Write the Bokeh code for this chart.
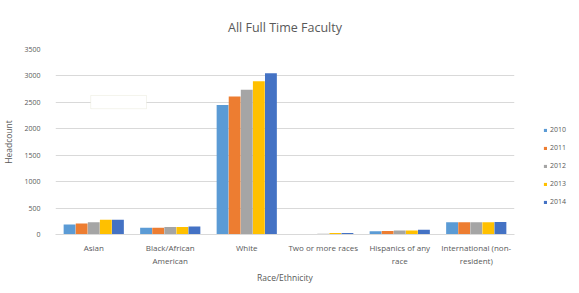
from bokeh.plotting import figure
from bokeh.models import (ColumnDataSource, Range1d, Legend, LegendItem, FactorRange,
                          BoxAnnotation)
from bokeh.layouts import row
from bokeh.transform import dodge
from bokeh.embed import file_html
from bokeh.resources import INLINE

categories = ["Asian", "Black/African\nAmerican", "White", "Two or more races",
              "Hispanics of any\nrace", "International (non-\nresident)"]
years = ["2010", "2011", "2012", "2013", "2014"]
v2010 = [190, 130, 2450, 10, 60, 230]
v2011 = [210, 130, 2610, 10, 65, 230]
v2012 = [230, 140, 2740, 15, 75, 230]
v2013 = [280, 140, 2900, 30, 75, 230]
v2014 = [280, 150, 3050, 30, 90, 235]
colors = ["#5B9BD5", "#ED7D31", "#A5A5A5", "#FFC000", "#4472C4"]
y_ticks = [0, 500, 1000, 1500, 2000, 2500, 3000, 3500]

src = ColumnDataSource(dict(cat=categories, v2010=v2010, v2011=v2011, v2012=v2012,
                            v2013=v2013, v2014=v2014))

FONT = "Open Sans"
GREY = "#595959"
H = 285

p = figure(width=522, height=H,
           x_range=FactorRange(*categories, range_padding=0),
           y_range=Range1d(0, 3500), output_backend="svg", toolbar_location=None,
           title="All Full Time Faculty")
p.min_border_left = 42
p.min_border_right = 8
p.min_border_top = 49
p.min_border_bottom = 50
p.outline_line_color = None

p.title.align = "center"
p.title.text_font = FONT
p.title.text_font_size = "12.5px"
p.title.text_font_style = "normal"
p.title.text_color = GREY
p.title.standoff = 28

offsets = [-0.316, -0.158, 0.0, 0.158, 0.316]
for y, col, off in zip(years, colors, offsets):
    p.vbar(x=dodge("cat", off, range=p.x_range), top="v" + y, width=0.155,
           source=src, color=col, line_color=None)

# empty text box present in the original screenshot
p.add_layout(BoxAnnotation(left=0.46, right=1.19, bottom=2380, top=2630,
                           fill_color="white", fill_alpha=1,
                           line_color="#DADAC4", line_width=1))

p.xgrid.grid_line_color = None
p.ygrid.grid_line_color = "#D9D9D9"
p.ygrid.grid_line_width = 1
p.yaxis.ticker = y_ticks
p.yaxis.axis_line_color = None
p.yaxis.major_tick_line_color = None
p.yaxis.minor_tick_line_color = None
p.yaxis.major_label_text_font = FONT
p.yaxis.major_label_text_font_size = "7px"
p.yaxis.major_label_text_color = GREY
p.yaxis.major_label_standoff = 9
p.yaxis.axis_label = "Headcount"
p.yaxis.axis_label_text_font = FONT
p.yaxis.axis_label_text_font_size = "8.5px"
p.yaxis.axis_label_text_font_style = "normal"
p.yaxis.axis_label_text_color = GREY
p.yaxis.axis_label_standoff = 7

p.xaxis.axis_line_color = "#D9D9D9"
p.xaxis.major_tick_line_color = None
p.xaxis.minor_tick_line_color = None
p.xaxis.major_label_text_font = FONT
p.xaxis.major_label_text_font_size = "8px"
p.xaxis.major_label_text_color = GREY
p.xaxis.major_label_standoff = 1
p.xaxis.axis_label = "Race/Ethnicity"
p.xaxis.axis_label_text_font = FONT
p.xaxis.axis_label_text_font_size = "8.5px"
p.xaxis.axis_label_text_font_style = "normal"
p.xaxis.axis_label_text_color = GREY
p.xaxis.axis_label_standoff = 3

# legend panel (zero-height placeholder bars only carry the legend swatches)
p2 = figure(width=49, height=H, output_backend="svg", toolbar_location=None,
            x_range=Range1d(0, 1), y_range=Range1d(0, 1))
p2.min_border = 0
p2.axis.visible = False
p2.grid.visible = False
p2.outline_line_color = None
items = []
for y, col in zip(years, colors):
    r = p2.vbar(x=[0], top=[0], bottom=[0], width=0.001, color=col, line_color=None)
    items.append(LegendItem(label=y, renderers=[r]))
legend = Legend(items=items, location=(21, 27), orientation="vertical",
                label_text_font=FONT, label_text_font_size="7px", label_text_color=GREY,
                glyph_width=4, glyph_height=4, spacing=7, label_standoff=3,
                border_line_color=None, background_fill_alpha=0, padding=0, margin=0,
                label_height=11)
p2.add_layout(legend, "center")

layout = row(p, p2, spacing=0)
open("out.html", "w").write(file_html(layout, INLINE))
